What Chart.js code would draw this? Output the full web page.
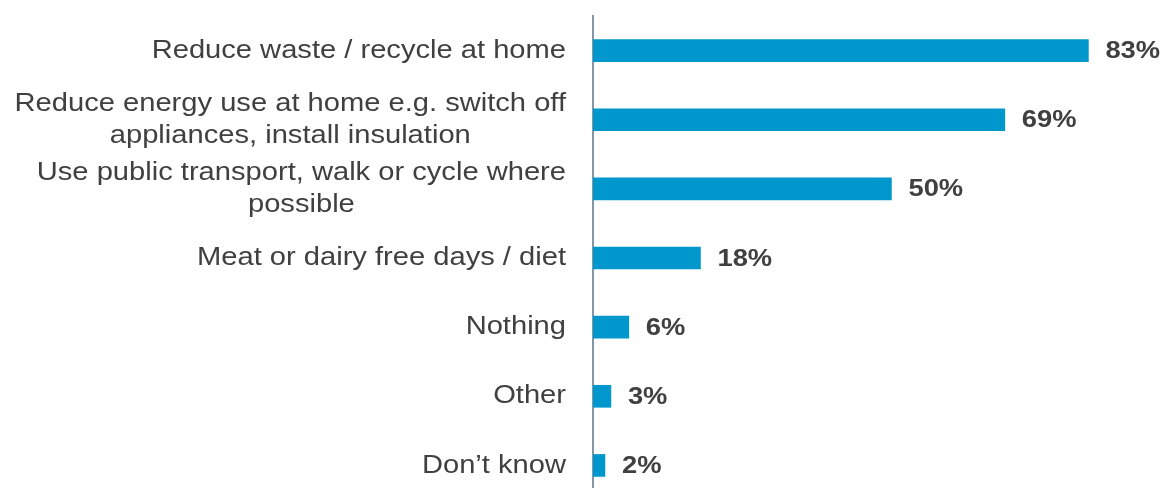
<!DOCTYPE html>
<html>
<head>
<meta charset="utf-8">
<script src="https://cdn.jsdelivr.net/npm/chart.js@4.4.1/dist/chart.umd.min.js"></script>
<style>
  html, body { margin: 0; padding: 0; background: #ffffff; overflow: hidden; }
  #wrap { width: 1163px; height: 500px; position: relative; }
</style>
</head>
<body>
<div id="wrap"><canvas id="c"></canvas></div>
<script>
// Actions taken, each label split into its display lines
const categories = [
  ['Reduce waste / recycle at home'],
  ['Reduce energy use at home e.g. switch off', 'appliances, install insulation'],
  ['Use public transport, walk or cycle where', 'possible'],
  ['Meat or dairy free days / diet'],
  ['Nothing'],
  ['Other'],
  ["Don\u2019t know"]
];
const values = [83, 69, 50, 18, 6, 3, 2];

const BAR = '#0097cc';
const TEXT = '#404040';
const FONT = '"Liberation Sans", Arial, sans-serif';
const STRETCH = 1.12; // slightly widened lettering

// Category labels: right-aligned block, lines centred within a block
const categoryLabels = {
  id: 'categoryLabels',
  afterDraw(chart) {
    const ctx = chart.ctx;
    const y = chart.scales.y;
    const right = chart.chartArea.left - 27;
    const lh = 32;
    ctx.save();
    ctx.font = '26px ' + FONT;
    ctx.fillStyle = TEXT;
    ctx.textBaseline = 'middle';
    ctx.textAlign = 'center';
    categories.forEach((lines, i) => {
      const cy = y.getPixelForValue(i);
      const w = Math.max(...lines.map(l => ctx.measureText(l).width)) * STRETCH;
      const cx = right - w / 2;
      const top = cy - (lines.length - 1) * lh / 2;
      lines.forEach((l, k) => {
        ctx.save();
        ctx.translate(cx, top + k * lh);
        ctx.scale(STRETCH, 1);
        ctx.fillText(l, 0, 0);
        ctx.restore();
      });
    });
    ctx.restore();
  }
};

// Percentage labels at the end of each bar
const valueLabels = {
  id: 'valueLabels',
  afterDatasetsDraw(chart) {
    const ctx = chart.ctx;
    const meta = chart.getDatasetMeta(0);
    ctx.save();
    ctx.font = 'bold 24px ' + FONT;
    ctx.fillStyle = TEXT;
    ctx.textAlign = 'left';
    ctx.textBaseline = 'middle';
    meta.data.forEach((bar, i) => {
      ctx.save();
      ctx.translate(bar.x + 17, bar.y + 1);
      ctx.scale(1.14, 1);
      ctx.fillText(values[i] + '%', 0, 0);
      ctx.restore();
    });
    ctx.restore();
  }
};

new Chart(document.getElementById('c'), {
  type: 'bar',
  data: {
    labels: categories.map(l => l.join(' ')),
    datasets: [{
      data: values,
      backgroundColor: BAR,
      borderWidth: 0,
      barThickness: 22
    }]
  },
  options: {
    indexAxis: 'y',
    responsive: true,
    maintainAspectRatio: false,
    animation: false,
    layout: { padding: { top: 16, right: 3, left: 0, bottom: 0 } },
    plugins: { legend: { display: false }, tooltip: { enabled: false } },
    scales: {
      x: {
        display: false,
        min: 0,
        max: 95
      },
      y: {
        grid: { display: false, drawTicks: false },
        border: { display: true, color: '#8497a8', width: 2 },
        ticks: { display: false },
        afterFit(scale) { scale.width = 593; }
      }
    }
  },
  plugins: [categoryLabels, valueLabels]
});
</script>
</body>
</html>
